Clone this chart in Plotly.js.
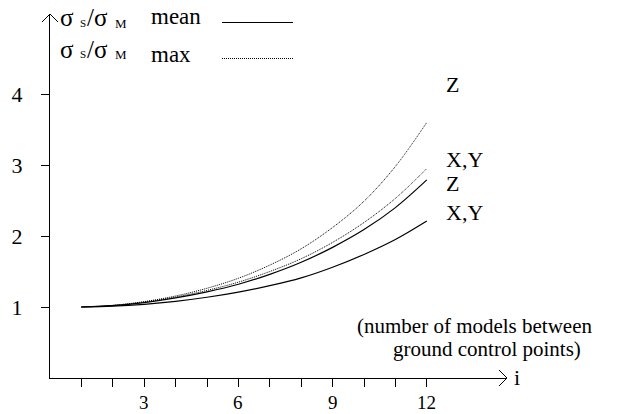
<!DOCTYPE html>
<html>
<head>
<meta charset="utf-8">
<script src="https://cdn.plot.ly/plotly-3.0.1.min.js"></script>
<style>html,body{margin:0;padding:0;background:#fff;}#chart{width:621px;height:414px;}</style>
</head>
<body>
<div id="chart"></div>
<script>
// ---- data ----
var models = [1, 2, 3, 4, 5, 6, 7, 8, 9, 10, 11, 12];
var meanXY = [1.00, 1.011, 1.038, 1.08, 1.137, 1.21, 1.30, 1.41, 1.56, 1.74, 1.95, 2.21];
var meanZ  = [1.00, 1.020, 1.063, 1.128, 1.213, 1.32, 1.46, 1.63, 1.84, 2.09, 2.40, 2.79];
var maxXY  = [1.00, 1.023, 1.071, 1.141, 1.234, 1.35, 1.50, 1.68, 1.91, 2.19, 2.53, 2.95];
var maxZ   = [1.00, 1.023, 1.076, 1.155, 1.264, 1.405, 1.59, 1.82, 2.12, 2.49, 2.98, 3.60];
var xTickVals = [3, 6, 9, 12];
var xTickText = ['3', '6', '9', '12'];
var xMinorVals = [1, 2, 4, 5, 7, 8, 10, 11];
var yTickVals = [1, 2, 3, 4];
var yTickText = ['1', '2', '3', '4'];

// ---- layout helpers ----
var L = 50, T = 14, W = 457, H = 364;
function px(x) { return (x - L) / W; }
function py(y) { return (T + H - y) / H; }
var FONT = '"Liberation Serif", "Times New Roman", Times, serif';

function curve(y, dashed) {
  return {
    x: models, y: y, mode: 'lines', type: 'scatter', hoverinfo: 'skip',
    line: dashed ? {color: '#000', width: 1, dash: '1px,1px', shape: 'spline'}
                 : {color: '#000', width: 1.2, shape: 'spline'}
  };
}
var data = [curve(maxZ, true), curve(maxXY, true), curve(meanZ, false), curve(meanXY, false)];

function ann(text, x, y, size, xanchor) {
  return {xref: 'paper', yref: 'paper', x: px(x), y: py(y), text: text, showarrow: false,
          xanchor: xanchor || 'left', yanchor: 'middle', align: 'center', borderpad: 0,
          font: {family: FONT, size: size, color: '#000'}};
}
// legend label σS/σM built from pieces (large sigma, small subscripts)
function sigmaLabel(yc) {
  return [ann('σ', 59, yc, 25), ann('S', 79, yc + 5, 11), ann('/σ', 86, yc, 25), ann('M', 114, yc + 5, 13)];
}
var annotations = [].concat(
  sigmaLabel(18), [ann('mean', 150, 17, 23)],
  sigmaLabel(49), [ann('max', 150, 54, 23)],
  [ann('Z', 445, 85, 22), ann('X,Y', 445, 159, 22),
   ann('Z', 445, 183, 22), ann('X,Y', 445, 212, 22),
   ann('(number of models between', 475, 326, 21, 'center'),
   ann('ground control points)', 487, 349, 21, 'center'),
   ann('i', 513, 377, 22)]
);
// x tick labels, placed on the library's x axis
xTickVals.forEach(function (v, i) {
  annotations.push({xref: 'x', yref: 'paper', x: v, y: py(402), text: xTickText[i], showarrow: false,
                    xanchor: 'center', yanchor: 'middle', font: {family: FONT, size: 19, color: '#000'}});
});
function seg(x0, y0, x1, y1, dash) {
  return {type: 'line', xref: 'paper', yref: 'paper', x0: px(x0), y0: py(y0), x1: px(x1), y1: py(y1),
          line: {color: '#000', width: 1, dash: dash || 'solid'}};
}
var shapes = [
  seg(222, 22.5, 293, 22.5), seg(222, 58.5, 293, 58.5, '1px,1px'),
  {type: 'path', xref: 'paper', yref: 'paper', xsizemode: 'pixel', ysizemode: 'pixel',
   xanchor: 1, yanchor: 0, path: 'M-8,-8L0,0L-8,8', line: {color: '#000', width: 1}},
  {type: 'path', xref: 'paper', yref: 'paper', xsizemode: 'pixel', ysizemode: 'pixel',
   xanchor: 0, yanchor: 1, path: 'M-8,-8L0,0L8,-8', line: {color: '#000', width: 1}}
];

var layout = {
  width: 621, height: 414,
  margin: {l: L, r: 621 - L - W, t: T, b: 414 - T - H, pad: 0},
  paper_bgcolor: '#fff', plot_bgcolor: '#fff',
  showlegend: false,
  font: {family: FONT, size: 22, color: '#000'},
  xaxis: {range: [0, W / 31.4], showgrid: false, zeroline: false, showline: true, linecolor: '#000', linewidth: 1,
          ticks: 'outside', ticklen: 8, tickwidth: 1, tickcolor: '#000', tickmode: 'array',
          tickvals: xTickVals, showticklabels: false, fixedrange: true,
          minor: {tickmode: 'array', tickvals: xMinorVals, ticks: 'outside', ticklen: 8, tickwidth: 1,
                  tickcolor: '#000', showgrid: false}},
  yaxis: {range: [0, H / 71], showgrid: false, zeroline: false, showline: true, linecolor: '#000', linewidth: 1,
          ticks: 'outside', ticklen: 8, tickwidth: 1, tickcolor: '#000', tickmode: 'array',
          tickvals: yTickVals, ticktext: yTickText, ticklabelstandoff: 14, fixedrange: true,
          tickfont: {family: FONT, size: 22, color: '#000'}},
  annotations: annotations,
  shapes: shapes
};
Plotly.newPlot('chart', data, layout, {displayModeBar: false, staticPlot: true});
</script>
</body>
</html>
